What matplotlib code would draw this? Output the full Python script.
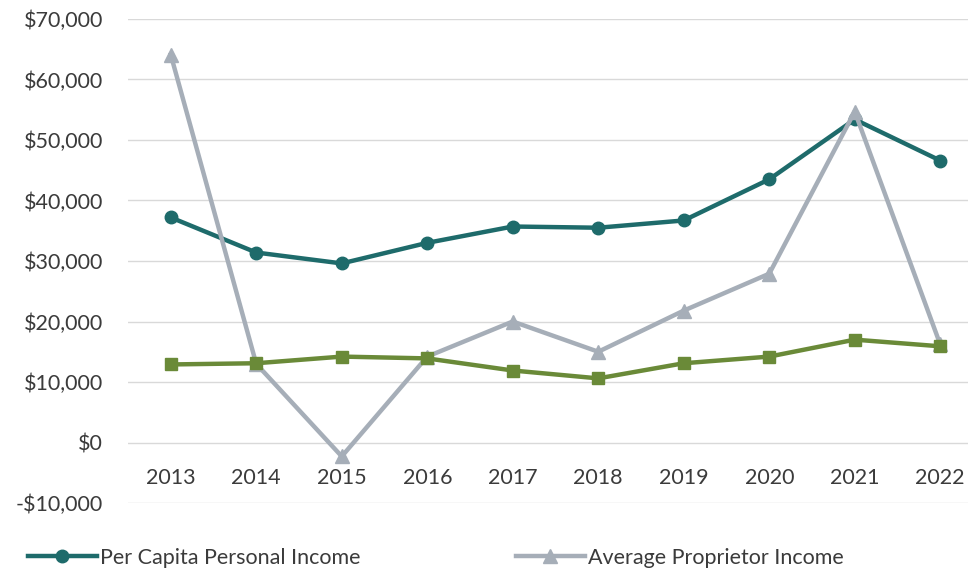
import matplotlib
matplotlib.use('Agg')
import matplotlib.pyplot as plt
from matplotlib.ticker import FuncFormatter

years = ['2013', '2014', '2015', '2016', '2017', '2018', '2019', '2020', '2021', '2022']
per_capita = [37200, 31400, 29600, 33000, 35700, 35500, 36700, 43500, 53400, 46600]
proprietor = [64100, 13000, -2300, 14200, 20000, 15000, 21800, 27900, 54700, 16200]
wage = [12900, 13100, 14200, 13900, 11900, 10600, 13100, 14200, 17000, 15900]

teal = '#1E6B6B'
gray = '#A6AEB8'
green = '#6A8A38'
txt = '#3B3B3B'

plt.rcParams['font.family'] = ['Lato', 'DejaVu Sans']

W, H = 968, 569
fig = plt.figure(figsize=(W / 100, H / 100), dpi=100)
ax = fig.add_axes([128 / W, 1 - 503 / H, 840 / W, 484 / H])

x = list(range(len(years)))
l1, = ax.plot(x, per_capita, color=teal, lw=3.2, marker='o', ms=9, zorder=3,
              label='Per Capita Personal Income')
l2, = ax.plot(x, proprietor, color=gray, lw=3.2, marker='^', ms=10, zorder=4,
              label='Average Proprietor Income')
l3, = ax.plot(x, wage, color=green, lw=3.2, marker='s', ms=9, zorder=5,
              label='Average Wage Per Job')

ax.set_ylim(-10000, 70000)
ax.set_xlim(-0.5, -0.5 + 840 / 85.5)
ax.set_yticks(range(-10000, 70001, 10000))
ax.yaxis.set_major_formatter(FuncFormatter(
    lambda v, p: ('-$' if v < 0 else '$') + f'{abs(int(v)):,}'))
ax.set_xticks(x)
ax.set_xticklabels(years)
ax.grid(axis='y', color='#D9D9D9', lw=1)
ax.set_axisbelow(True)
for s in ax.spines.values():
    s.set_visible(False)
ax.spines['bottom'].set_position(('data', 0))
ax.tick_params(axis='both', length=0, labelsize=15.5, colors=txt)
ax.tick_params(axis='y', pad=18)
ax.tick_params(axis='x', pad=18)

# only the first legend row is visible in the original
fig.legend(handles=[l1, l2], loc='lower left', ncol=2,
           bbox_to_anchor=(28 / W, 1 / H), frameon=False,
           fontsize=15.5, labelcolor=txt, handlelength=3.2, handletextpad=0.15,
           columnspacing=7.2, borderaxespad=0, borderpad=0)

fig.savefig('out.png', dpi=100)
